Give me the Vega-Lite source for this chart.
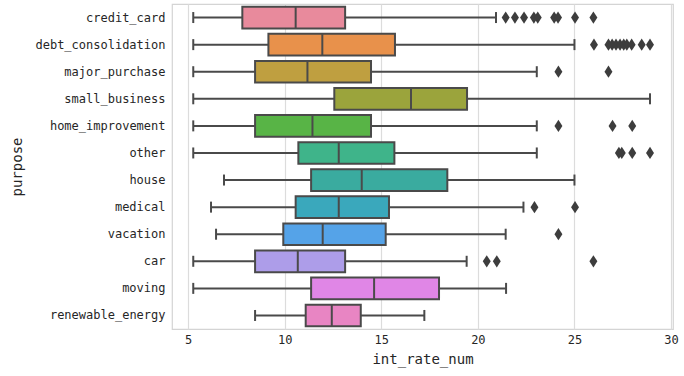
{
  "$schema": "https://vega.github.io/schema/vega-lite/v6.json",
  "width": 501,
  "height": 325,
  "autosize": {"type": "none"},
  "padding": {"left": 172, "top": 4, "right": 11, "bottom": 47},
  "background": "white",
  "config": {
    "view": {"stroke": "#d4d4d4", "strokeWidth": 1.2},
    "font": "DejaVu Sans Mono"
  },
  "datasets": {
    "boxes": [
      {"purpose": "credit_card", "lo": 5.27, "q1": 7.81, "med": 10.57, "q3": 13.13, "hi": 20.94},
      {"purpose": "debt_consolidation", "lo": 5.27, "q1": 9.16, "med": 11.95, "q3": 15.71, "hi": 25.0},
      {"purpose": "major_purchase", "lo": 5.27, "q1": 8.47, "med": 11.18, "q3": 14.47, "hi": 23.05},
      {"purpose": "small_business", "lo": 5.27, "q1": 12.57, "med": 16.54, "q3": 19.44, "hi": 28.91},
      {"purpose": "home_improvement", "lo": 5.27, "q1": 8.47, "med": 11.44, "q3": 14.47, "hi": 23.05},
      {"purpose": "other", "lo": 5.27, "q1": 10.71, "med": 12.8, "q3": 15.68, "hi": 23.05},
      {"purpose": "house", "lo": 6.86, "q1": 11.37, "med": 13.99, "q3": 18.42, "hi": 25.0},
      {"purpose": "medical", "lo": 6.19, "q1": 10.57, "med": 12.8, "q3": 15.4, "hi": 22.36},
      {"purpose": "vacation", "lo": 6.45, "q1": 9.93, "med": 11.97, "q3": 15.23, "hi": 21.44},
      {"purpose": "car", "lo": 5.27, "q1": 8.47, "med": 10.68, "q3": 13.13, "hi": 19.42},
      {"purpose": "moving", "lo": 5.27, "q1": 11.37, "med": 14.63, "q3": 17.99, "hi": 21.46},
      {"purpose": "renewable_energy", "lo": 8.47, "q1": 11.09, "med": 12.44, "q3": 13.94, "hi": 17.23}
    ],
    "outliers": [
      {"purpose": "credit_card", "v": 21.44},
      {"purpose": "credit_card", "v": 21.92},
      {"purpose": "credit_card", "v": 22.39},
      {"purpose": "credit_card", "v": 22.9},
      {"purpose": "credit_card", "v": 23.1},
      {"purpose": "credit_card", "v": 23.95},
      {"purpose": "credit_card", "v": 24.15},
      {"purpose": "credit_card", "v": 25.03},
      {"purpose": "credit_card", "v": 25.98},
      {"purpose": "debt_consolidation", "v": 26.01},
      {"purpose": "debt_consolidation", "v": 26.76},
      {"purpose": "debt_consolidation", "v": 26.95},
      {"purpose": "debt_consolidation", "v": 27.15},
      {"purpose": "debt_consolidation", "v": 27.36},
      {"purpose": "debt_consolidation", "v": 27.55},
      {"purpose": "debt_consolidation", "v": 27.71},
      {"purpose": "debt_consolidation", "v": 27.96},
      {"purpose": "debt_consolidation", "v": 28.48},
      {"purpose": "debt_consolidation", "v": 28.91},
      {"purpose": "major_purchase", "v": 24.17},
      {"purpose": "major_purchase", "v": 26.76},
      {"purpose": "home_improvement", "v": 24.17},
      {"purpose": "home_improvement", "v": 26.97},
      {"purpose": "home_improvement", "v": 27.99},
      {"purpose": "other", "v": 27.3},
      {"purpose": "other", "v": 27.45},
      {"purpose": "other", "v": 27.99},
      {"purpose": "other", "v": 28.91},
      {"purpose": "medical", "v": 22.93},
      {"purpose": "medical", "v": 25.03},
      {"purpose": "vacation", "v": 24.17},
      {"purpose": "car", "v": 20.46},
      {"purpose": "car", "v": 20.98},
      {"purpose": "car", "v": 25.98}
    ]
  },
  "encoding": {
    "y": {
      "field": "purpose",
      "type": "nominal",
      "sort": ["credit_card", "debt_consolidation", "major_purchase", "small_business", "home_improvement", "other", "house", "medical", "vacation", "car", "moving", "renewable_energy"],
      "scale": {"paddingInner": 0, "paddingOuter": 0},
      "axis": {
        "title": "purpose",
        "titleFont": "DejaVu Sans Mono",
        "titleFontSize": 14,
        "titleFontWeight": "normal",
        "titleColor": "#262626",
        "titlePadding": 10,
        "labelFont": "DejaVu Sans Mono",
        "labelFontSize": 12,
        "labelColor": "#262626",
        "labelPadding": 7,
        "ticks": false,
        "domain": false,
        "grid": false
      }
    }
  },
  "layer": [
    {
      "data": {"name": "boxes"},
      "mark": {"type": "rule", "color": "#4a4a4a", "strokeWidth": 2},
      "encoding": {
        "x": {
          "field": "lo",
          "type": "quantitative",
          "scale": {"domain": [4.17, 30.1], "nice": false, "zero": false},
          "axis": {
            "title": "int_rate_num",
            "titleFont": "DejaVu Sans Mono",
            "titleFontSize": 14,
            "titleFontWeight": "normal",
            "titleColor": "#262626",
            "titlePadding": 7,
            "labelFont": "DejaVu Sans Mono",
            "labelFontSize": 12,
            "labelColor": "#262626",
            "labelPadding": 5,
            "values": [5, 10, 15, 20, 25, 30],
            "ticks": false,
            "domain": false,
            "grid": true,
            "gridColor": "#dcdcdc",
            "gridWidth": 1.2
          }
        },
        "x2": {"field": "hi"}
      }
    },
    {
      "data": {"name": "boxes"},
      "mark": {"type": "tick", "color": "#4a4a4a", "thickness": 2, "size": 11, "opacity": 1},
      "encoding": {"x": {"field": "lo", "type": "quantitative"}}
    },
    {
      "data": {"name": "boxes"},
      "mark": {"type": "tick", "color": "#4a4a4a", "thickness": 2, "size": 11, "opacity": 1},
      "encoding": {"x": {"field": "hi", "type": "quantitative"}}
    },
    {
      "data": {"name": "boxes"},
      "mark": {"type": "bar", "height": {"band": 0.8}, "stroke": "#4a4a4a", "strokeWidth": 2, "opacity": 1},
      "encoding": {
        "x": {"field": "q1", "type": "quantitative"},
        "x2": {"field": "q3"},
        "fill": {
          "field": "purpose",
          "type": "nominal",
          "legend": null,
          "scale": {
            "domain": ["credit_card", "debt_consolidation", "major_purchase", "small_business", "home_improvement", "other", "house", "medical", "vacation", "car", "moving", "renewable_energy"],
            "range": ["#e88a9c", "#e8914b", "#bf9f40", "#9ba43c", "#58b446", "#3fb48a", "#3aab9f", "#3aa8bc", "#55a3e8", "#ad9de9", "#e086e6", "#e885c3"]
          }
        }
      }
    },
    {
      "data": {"name": "boxes"},
      "mark": {"type": "tick", "color": "#4a4a4a", "thickness": 2, "size": 21, "opacity": 1},
      "encoding": {"x": {"field": "med", "type": "quantitative"}}
    },
    {
      "data": {"name": "outliers"},
      "mark": {"type": "point", "shape": "M0,-1L0.65,0L0,1L-0.65,0Z", "filled": true, "color": "#3d3d3d", "size": 150, "opacity": 1},
      "encoding": {"x": {"field": "v", "type": "quantitative"}}
    }
  ]
}
